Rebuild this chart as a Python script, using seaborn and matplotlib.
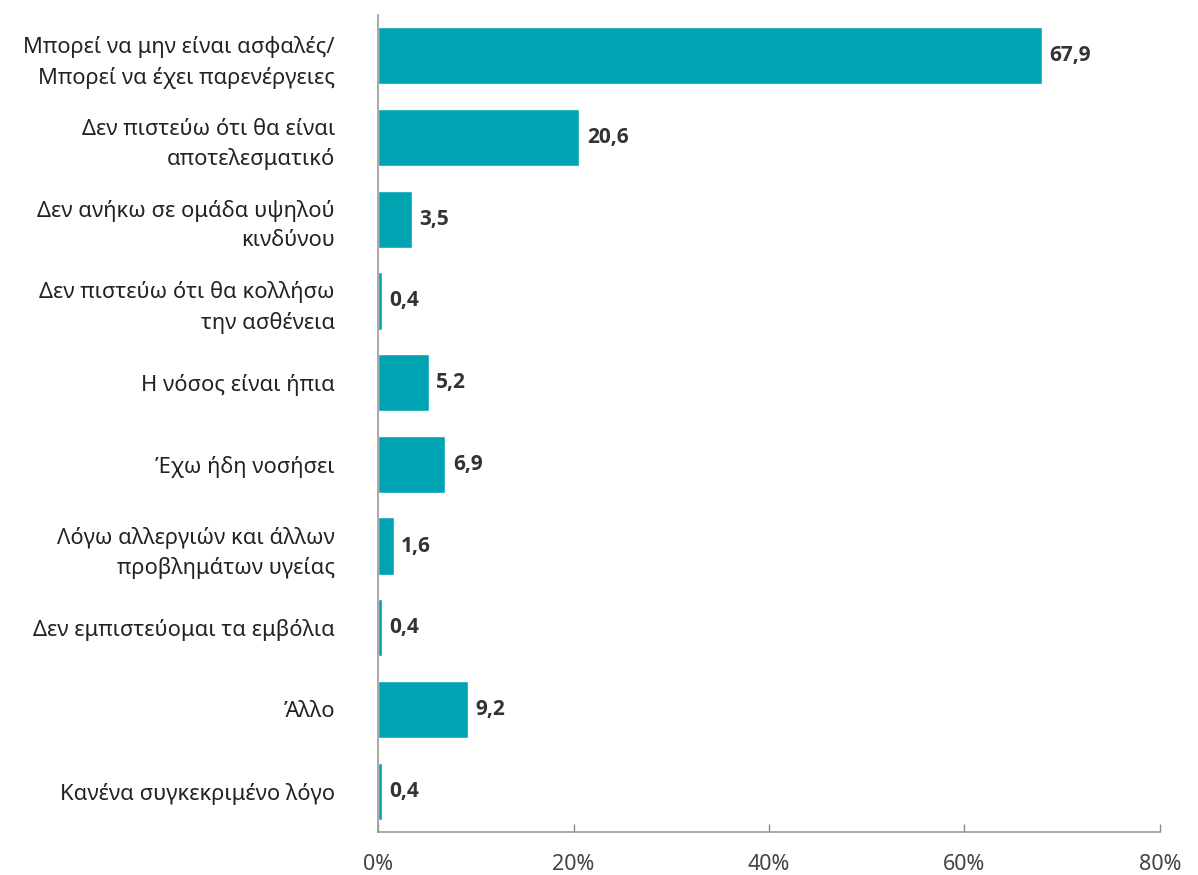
import matplotlib
matplotlib.use("Agg")
import matplotlib.pyplot as plt
import seaborn as sns
import pandas as pd

categories = [
    "Μπορεί να μην είναι ασφαλές/\nΜπορεί να έχει παρενέργειες",
    "Δεν πιστεύω ότι θα είναι\nαποτελεσματικό",
    "Δεν ανήκω σε ομάδα υψηλού\nκινδύνου",
    "Δεν πιστεύω ότι θα κολλήσω\nτην ασθένεια",
    "Η νόσος είναι ήπια",
    "Έχω ήδη νοσήσει",
    "Λόγω αλλεργιών και άλλων\nπροβλημάτων υγείας",
    "Δεν εμπιστεύομαι τα εμβόλια",
    "Άλλο",
    "Κανένα συγκεκριμένο λόγο",
]
values = [67.9, 20.6, 3.5, 0.4, 5.2, 6.9, 1.6, 0.4, 9.2, 0.4]
x_ticks = [0, 20, 40, 60, 80]

df = pd.DataFrame({"reason": categories, "pct": values})

sns.set_theme(style="white")
plt.rcParams["font.family"] = ["Noto Sans", "DejaVu Sans"]

fig = plt.figure(figsize=(11.98, 8.75), dpi=100)
ax = fig.add_axes([378 / 1198, 43 / 875, (1160 - 378) / 1198, (860 - 43) / 875])

sns.barplot(data=df, x="pct", y="reason", color="#00A3B1", width=0.7,
            saturation=1, ax=ax, orient="h")

for i, v in enumerate(values):
    ax.text(v + 0.75, i, f"{v:.1f}".replace(".", ","), va="center", ha="left",
            fontsize=15, fontweight="bold", color="#333333",
            family=["Open Sans", "DejaVu Sans"])

ax.set_xlim(0, 80)
ax.set_xticks(x_ticks)
ax.set_xticklabels([f"{t}%" for t in x_ticks], fontsize=15.5, color="#444444")
ax.set_xlabel("")
ax.set_ylabel("")
ax.tick_params(axis="y", length=0, pad=31, labelsize=15.8, labelcolor="#222222")
ax.tick_params(axis="x", direction="in", length=6, width=1, color="#888888",
               pad=16, bottom=True)
for lbl in ax.get_yticklabels():
    lbl.set_horizontalalignment("right")
    lbl.set_linespacing(1.5)

for s in ["top", "right"]:
    ax.spines[s].set_visible(False)
ax.spines["left"].set_color("#999999")
ax.spines["bottom"].set_color("#999999")
ax.spines["left"].set_linewidth(1.2)
ax.spines["bottom"].set_linewidth(1.2)

fig.savefig("out.png", dpi=100)
